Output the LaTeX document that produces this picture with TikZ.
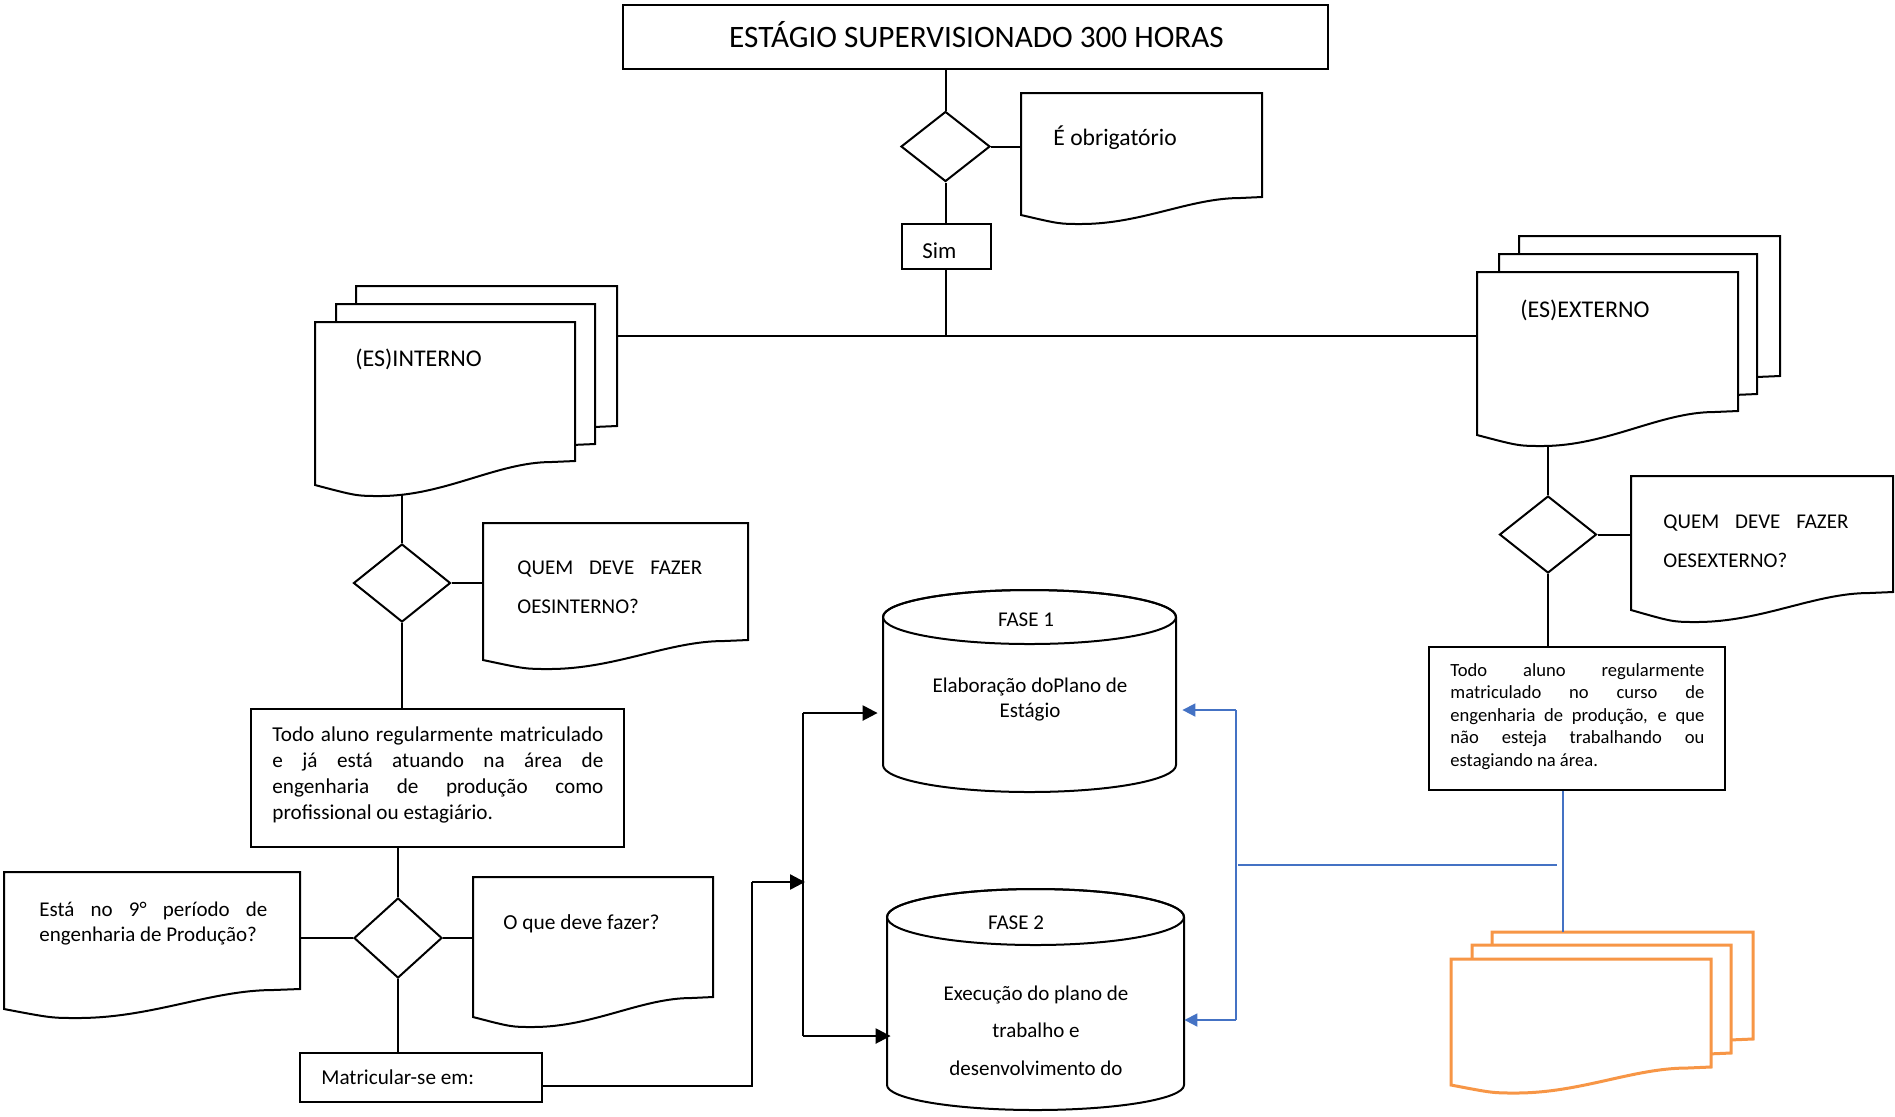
\documentclass[tikz,border=0pt]{standalone}
\usepackage{fontspec}
\setmainfont{Carlito}
\usetikzlibrary{shapes.geometric,arrows.meta,backgrounds}
\definecolor{bluel}{HTML}{4472C4}
\definecolor{orangel}{HTML}{F79646}
\tikzset{
 shp/.style={draw=black, line width=1pt, fill=white},
 boxn/.style={shp, rectangle, inner sep=0pt},
 dia/.style={shp, diamond, inner sep=0pt},
 txt/.style={inner sep=0pt, text=black},
 ghost/.style={rectangle, inner sep=0pt, draw=none},
 conn/.style={line width=1pt, draw=black},
 arr/.style={line width=1.2pt, draw=black, -{Triangle[length=7.5pt,width=7.5pt]}},
 barr/.style={line width=0.9pt, draw=bluel, -{Triangle[length=6.5pt,width=6.5pt]}},
 bline/.style={line width=0.8pt, draw=bluel},
 odoc/.style={draw=orangel, line width=1.5pt, fill=white},
}
% #1 name, #2 style, #3 x, #4 y, #5 w, #6 right height, #7 left height, #8 lowest depth
\newcommand\docshape[8]{%
 \coordinate (#1) at (#3,#4);
 \coordinate (#1-ne) at ({#3+#5},#4);
 \coordinate (#1-m) at ({#3+0.25*#5},{#4+#8-4});
 \draw[#2] (#3,#4) -- ({#3+#5},#4) -- ({#3+#5},{#4+#6}) -- ({#3+0.91*#5},{#4+#6+1})
   .. controls ({#3+0.7*#5},{#4+#6+1}) and ({#3+0.5*#5},{#4+#8}) .. ({#3+0.25*#5},{#4+#8})
   .. controls ({#3+0.16*#5},{#4+#8}) .. (#3,{#4+#7}) -- cycle;}
% #1 x1, #2 x2, #3 top ellipse centre y, #4 ry top, #5 side bottom y, #6 ry bottom
\newcommand\cylshape[6]{%
 \draw[shp] (#1,#3) -- (#1,#5) arc[start angle=180,end angle=0,x radius={(#2-#1)/2},y radius=#6]
   -- (#2,#3) arc[start angle=0,end angle=-180,x radius={(#2-#1)/2},y radius=#4] -- cycle;
 \draw[line width=1pt] ({(#1+#2)/2},#3) ellipse[x radius={(#2-#1)/2},y radius=#4];}

\begin{document}
\begin{tikzpicture}[x=0.5pt,y=-0.5pt]
\useasboundingbox (0,0) rectangle (1895,1116);

% ---------- top ----------
\node[boxn, minimum width=352.5pt, minimum height=32pt] (title) at (975.5,37) {};
\node[txt, anchor=base, font=\fontsize{15.6}{18}\selectfont] (titlet) at (976.5,47) {ESTÁGIO SUPERVISIONADO 300 HORAS};
\node[dia, minimum width=44.5pt, minimum height=35pt] (d1) at (945.5,146.5) {};
\node[boxn, minimum width=44.75pt, minimum height=22.5pt] (sim) at (946.25,246.5) {};
\node[txt, anchor=base west, font=\fontsize{11.4}{13}\selectfont] (simt) at (922,258) {Sim};
\docshape{obl}{shp}{1021}{93}{241}{104}{122}{131}
\node[txt, anchor=base west, font=\fontsize{11.8}{13}\selectfont] (oblt) at (1053,145) {É obrigatório};

% ---------- interno ----------
\docshape{intB}{shp}{356}{286}{261}{140}{163}{174}
\docshape{intM}{shp}{336}{304}{259}{140}{163}{174}
\docshape{intF}{shp}{315}{322}{260}{139}{163}{174}
\node[txt, anchor=base west, font=\fontsize{12}{14}\selectfont] (intt) at (355,366) {(ES)INTERNO};
\node[dia, minimum width=48.5pt, minimum height=39pt] (d2) at (402,583) {};
\docshape{qint}{shp}{483}{523}{265}{117}{137}{146}
\node[txt, anchor=base west, font=\fontsize{10.5}{19.5}\selectfont] (qintt) at (517,574)
  {\vtop{\hbox to 92.5pt{QUEM DEVE FAZER}\hbox{OESINTERNO?}}};
\node[boxn, minimum width=186.5pt, minimum height=69pt] (todo) at (437.5,778) {};
\node[txt, anchor=base west, font=\fontsize{10.6}{13}\selectfont] (todot) at (272,741)
  {\vtop{\hbox to 165.5pt{Todo aluno regularmente matriculado}\hbox to 165.5pt{e já está atuando na área de}\hbox to 165.5pt{engenharia de produção como}\hbox{profissional ou estagiário.}}};
\node[dia, minimum width=44pt, minimum height=40pt] (d3) at (398,938) {};
\docshape{esta}{shp}{4}{872}{296}{117}{137}{146}
\node[txt, anchor=base west, font=\fontsize{10.5}{12.75}\selectfont] (estat) at (39,916)
  {\vtop{\hbox to 114pt{Está no 9° período de}\hbox{engenharia de Produção?}}};
\docshape{oque}{shp}{473}{877}{240}{120}{140}{150}
\node[txt, anchor=base west, font=\fontsize{10.7}{12.5}\selectfont] (oquet) at (503,929) {O que deve fazer?};
\node[boxn, minimum width=121pt, minimum height=24.5pt] (mat) at (421,1077.5) {};
\node[txt, anchor=base west, font=\fontsize{10.6}{12.5}\selectfont] (matt) at (321,1084) {Matricular-se em:};

% ---------- externo ----------
\docshape{extB}{shp}{1519}{236}{261}{140}{163}{174}
\docshape{extM}{shp}{1499}{254}{258}{140}{163}{174}
\docshape{extF}{shp}{1477}{272}{261}{139}{163}{174}
\node[txt, anchor=base west, font=\fontsize{12}{14}\selectfont] (extt) at (1520,317) {(ES)EXTERNO};
\node[dia, minimum width=48.5pt, minimum height=38.5pt] (dext) at (1548,534.5) {};
\docshape{qext}{shp}{1631}{476}{262}{116}{134}{146}
\node[txt, anchor=base west, font=\fontsize{10.5}{19.5}\selectfont] (qextt) at (1663,528)
  {\vtop{\hbox to 92.5pt{QUEM DEVE FAZER}\hbox{OESEXTERNO?}}};
\node[boxn, minimum width=148pt, minimum height=71.5pt] (rbox) at (1577,718.5) {};
\node[txt, anchor=base west, font=\fontsize{9.3}{11.25}\selectfont] (rboxt) at (1450,676)
  {\vtop{\hbox to 127pt{Todo aluno regularmente}\hbox to 127pt{matriculado no curso de}\hbox to 127pt{engenharia de produção, e que}\hbox to 127pt{não esteja trabalhando ou}\hbox{estagiando na área.}}};

% ---------- orange stack ----------
\docshape{orB}{odoc}{1492}{932}{261}{107}{126}{134}
\docshape{orM}{odoc}{1472}{945}{259}{108}{126}{134}
\docshape{orF}{odoc}{1451}{959}{260}{108}{126}{134}

% ---------- phases ----------
\cylshape{883}{1176}{617}{27}{765}{27}
\node[ghost, minimum width=146.5pt, minimum height=101pt] (fase1) at (1029.5,691) {};
\node[txt, anchor=base, font=\fontsize{10.5}{12.5}\selectfont] (f1a) at (1026,626) {FASE 1};
\node[txt, anchor=base, font=\fontsize{10.5}{12.5}\selectfont] (f1b) at (1030,692)
  {\vtop{\hbox to 120pt{\hss Elaboração doPlano de\hss}\hbox to 120pt{\hss Estágio\hss}}};
\cylshape{887}{1184}{917}{28}{1085}{25}
\node[ghost, minimum width=148.5pt, minimum height=110.5pt] (fase2) at (1035.5,999.5) {};
\node[txt, anchor=base, font=\fontsize{10.5}{12.5}\selectfont] (f2a) at (1016,929) {FASE 2};
\node[txt, anchor=base, font=\fontsize{10.5}{18.75}\selectfont] (f2b) at (1036,1000)
  {\vtop{\hbox to 120pt{\hss Execução do plano de\hss}\hbox to 120pt{\hss trabalho e\hss}\hbox to 120pt{\hss desenvolvimento do\hss}}};

% ---------- connectors ----------
\begin{scope}[on background layer]
\coordinate (junc) at (945.5,336);
\draw[conn] (d1.north) -- (d1.north |- title.south);
\draw[conn] (d1.south) -- (d1.south |- sim.north);
\draw[conn] (sim.south) -- (sim.south |- junc);
\draw[conn] (junc -| intB-ne) -- (junc -| extF);
\draw[conn] (d1.east) -- (d1.east -| obl);
\draw[conn] (d2.north) -- (d2.north |- intF-m);
\draw[conn] (d2.east) -- (d2.east -| qint);
\draw[conn] (d2.south) -- (d2.south |- todo.north);
\draw[conn] (dext.north) -- (dext.north |- extF-m);
\draw[conn] (dext.east) -- (dext.east -| qext);
\draw[conn] (dext.south) -- (dext.south |- rbox.north);
\draw[conn] (d3.north) -- (d3.north |- todo.south);
\draw[conn] (d3.west) -- (d3.west -| esta-ne);
\draw[conn] (d3.east) -- (d3.east -| oque);
\draw[conn] (d3.south) -- (d3.south |- mat.north);
\end{scope}

\coordinate (m1) at (752,1086);
\coordinate (m2) at (752,882);
\coordinate (vtop) at (803,713);
\coordinate (vbot) at (803,1036);
\coordinate (vj) at (805,882);
\draw[conn] (m1 -| mat.east) -- (m1) -- (m2);
\draw[arr] (m2) -- (vj);
\draw[conn] (vtop) -- (vbot);
\draw[arr, shorten >=2.5pt] (vtop) -- (vtop -| fase1.west);
\draw[arr, shorten >=-2pt] (vbot) -- (vbot -| fase2.west);

\coordinate (bt) at (1236,710);
\coordinate (bb) at (1236,1020);
\coordinate (bj) at (1238,865);
\coordinate (be) at (1557,865);
\coordinate (bo) at (1563,932);
\draw[bline] (bt) -- (bb);
\draw[bline] (bj) -- (be);
\draw[bline] (bo) -- (bo |- rbox.south);
\draw[barr, shorten >=3pt] (bt) -- (bt -| fase1.east);
\draw[barr] (bb) -- (bb -| fase2.east);
\end{tikzpicture}
\end{document}
